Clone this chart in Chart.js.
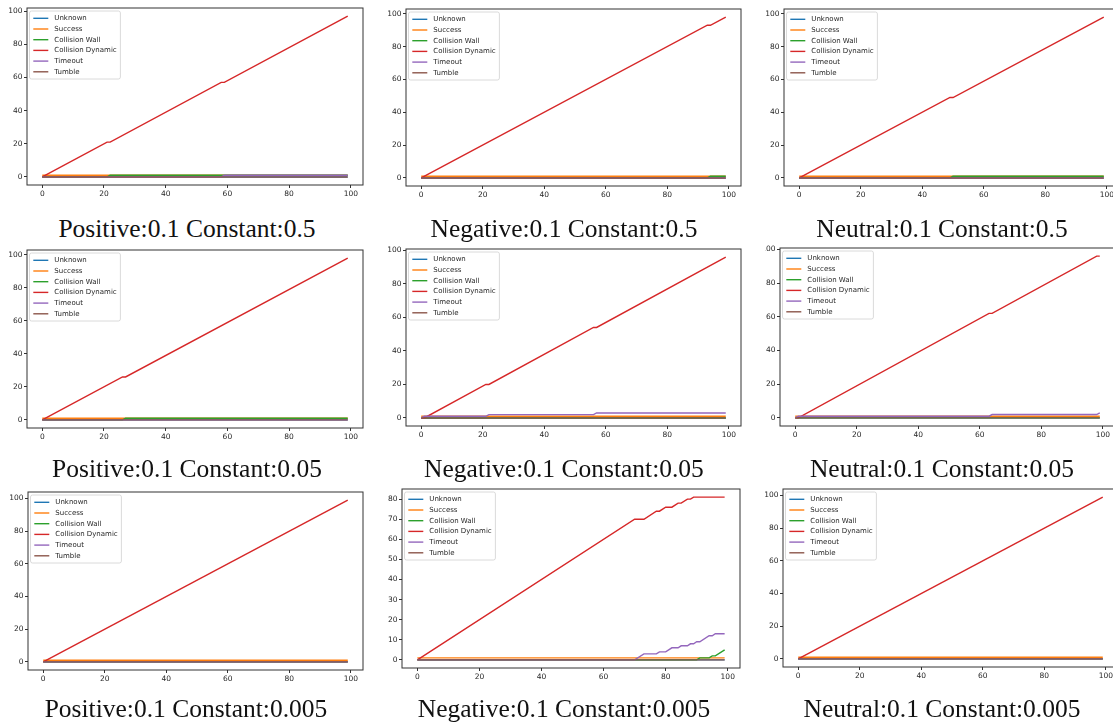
<!DOCTYPE html>
<html lang="en">
<head>
<meta charset="UTF-8">
<title>Episode outcomes</title>
<script src="https://cdn.jsdelivr.net/npm/chart.js@4.4.0/dist/chart.umd.min.js"></script>
<style>
  body { margin: 0; width: 1113px; height: 726px; overflow: hidden; background: #fff; position: relative; }
  .panel { position: absolute; }
  .caption {
    position: absolute; width: 400px; text-align: center;
    font-family: "Liberation Serif", serif; font-size: 25.5px; line-height: 1; color: #111;
    white-space: nowrap;
  }
</style>
</head>
<body>
<script>
// outcome names, in plotting order
const outcomes = ['Unknown', 'Success', 'Collision Wall', 'Collision Dynamic', 'Timeout', 'Tumble'];
const xTicks = [0, 20, 40, 60, 80, 100];
const yTicks = [0, 20, 40, 60, 80, 100];
const yTicksFine = [0, 10, 20, 30, 40, 50, 60, 70, 80];

// cumulative counts per episode, given as [episode, count] vertices
const posHalf = {
  unknown: [[0, 0], [99, 0]],
  success: [[0, 1], [99, 1]],
  wall:    [[0, 0], [21, 0], [22, 1], [99, 1]],
  dynamic: [[0, 0], [21, 21], [22, 21], [58, 57], [59, 57], [99, 97]],
  timeout: [[0, 0], [58, 0], [59, 1], [99, 1]],
  tumble:  [[0, 0], [99, 0]]
};
const negHalf = {
  unknown: [[0, 0], [99, 0]],
  success: [[0, 1], [99, 1]],
  wall:    [[0, 0], [93, 0], [94, 1], [99, 1]],
  dynamic: [[0, 0], [93, 93], [94, 93], [99, 98]],
  timeout: [[0, 0], [99, 0]],
  tumble:  [[0, 0], [99, 0]]
};
const neuHalf = {
  unknown: [[0, 0], [99, 0]],
  success: [[0, 1], [99, 1]],
  wall:    [[0, 0], [49, 0], [50, 1], [99, 1]],
  dynamic: [[0, 0], [49, 49], [50, 49], [99, 98]],
  timeout: [[0, 0], [99, 0]],
  tumble:  [[0, 0], [99, 0]]
};
const posTwentieth = {
  unknown: [[0, 0], [99, 0]],
  success: [[0, 1], [99, 1]],
  wall:    [[0, 0], [26, 0], [27, 1], [99, 1]],
  dynamic: [[0, 0], [26, 26], [27, 26], [99, 98]],
  timeout: [[0, 0], [99, 0]],
  tumble:  [[0, 0], [99, 0]]
};
const negTwentieth = {
  unknown: [[0, 0], [99, 0]],
  success: [[0, 1], [99, 1]],
  wall:    [[0, 0], [99, 0]],
  dynamic: [[0, 0], [1, 0], [21, 20], [22, 20], [56, 54], [57, 54], [99, 96]],
  timeout: [[0, 0], [1, 1], [21, 1], [22, 2], [56, 2], [57, 3], [99, 3]],
  tumble:  [[0, 0], [99, 0]]
};
const neuTwentieth = {
  unknown: [[0, 0], [99, 0]],
  success: [[0, 1], [99, 1]],
  wall:    [[0, 0], [99, 0]],
  dynamic: [[0, 0], [1, 0], [63, 62], [64, 62], [98, 96], [99, 96]],
  timeout: [[0, 0], [1, 1], [63, 1], [64, 2], [98, 2], [99, 3]],
  tumble:  [[0, 0], [99, 0]]
};
const posTiny = {
  unknown: [[0, 0], [99, 0]],
  success: [[0, 1], [99, 1]],
  wall:    [[0, 0], [99, 0]],
  dynamic: [[0, 0], [99, 99]],
  timeout: [[0, 0], [99, 0]],
  tumble:  [[0, 0], [99, 0]]
};
const negTiny = {
  unknown: [[0, 0], [99, 0]],
  success: [[0, 1], [99, 1]],
  wall:    [[0, 0], [90, 0], [91, 1], [94, 1], [95, 2], [96, 2], [99, 5]],
  dynamic: [[0, 0], [70, 70], [73, 70], [77, 74], [78, 74], [80, 76], [82, 76],
            [84, 78], [85, 78], [87, 80], [88, 80], [89, 81], [99, 81]],
  timeout: [[0, 0], [70, 0], [73, 3], [77, 3], [78, 4], [80, 4], [82, 6], [84, 6],
            [85, 7], [87, 7], [88, 8], [89, 8], [90, 9], [91, 9], [94, 12], [95, 12],
            [96, 13], [99, 13]],
  tumble:  [[0, 0], [99, 0]]
};
const neuTiny = {
  unknown: [[0, 0], [99, 0]],
  success: [[0, 1], [99, 1]],
  wall:    [[0, 0], [99, 0]],
  dynamic: [[0, 0], [99, 99]],
  timeout: [[0, 0], [99, 0]],
  tumble:  [[0, 0], [99, 0]]
};

const captions = [
  'Positive:0.1 Constant:0.5', 'Negative:0.1 Constant:0.5', 'Neutral:0.1 Constant:0.5',
  'Positive:0.1 Constant:0.05', 'Negative:0.1 Constant:0.05', 'Neutral:0.1 Constant:0.05',
  'Positive:0.1 Constant:0.005', 'Negative:0.1 Constant:0.005', 'Neutral:0.1 Constant:0.005'
];

const seriesKeys = ['unknown', 'success', 'wall', 'dynamic', 'timeout', 'tumble'];
const colors = ['#1f77b4', '#ff7f0e', '#2ca02c', '#d62728', '#9467bd', '#8c564b'];

// axes boxes [left, top, right, bottom] and caption centres
const panels = [
  { run: posHalf,      box: [27, 8, 363, 185],     yt: yTicks, cap: [187, 216] },
  { run: negHalf,      box: [406, 9, 741, 186],    yt: yTicks, cap: [564, 216] },
  { run: neuHalf,      box: [784, 9, 1119, 186],   yt: yTicks, cap: [942, 216] },
  { run: posTwentieth, box: [27, 250, 363, 428],   yt: yTicks, cap: [187, 456] },
  { run: negTwentieth, box: [406, 249, 741, 426],  yt: yTicks, cap: [564, 456] },
  { run: neuTwentieth, box: [780, 248, 1115, 426], yt: yTicks, cap: [942, 456], clipLeft: 765 },
  { run: posTiny,      box: [28, 492, 363, 670],   yt: yTicks, cap: [186, 696] },
  { run: negTiny,      box: [402, 489, 740, 668],  yt: yTicksFine, cap: [564, 696] },
  { run: neuTiny,      box: [783, 489, 1118, 667], yt: yTicks, cap: [942, 696] }
];

const tickFont = { family: 'DejaVu Sans', size: 7.5 };
const ML = 36, MT = 8, MR = 8, MB = 22;

// black box round the axes
const frame = {
  id: 'frame',
  afterDraw(chart) {
    const { ctx, chartArea: a } = chart;
    ctx.save();
    ctx.strokeStyle = '#333';
    ctx.lineWidth = 1;
    ctx.strokeRect(a.left, a.top, a.right - a.left, a.bottom - a.top);
    ctx.restore();
  }
};

// boxed legend in the upper left corner
const boxLegend = {
  id: 'boxLegend',
  afterDatasetsDraw(chart) {
    const { ctx, chartArea: a } = chart;
    const sets = chart.data.datasets;
    ctx.save();
    ctx.font = '7px "DejaVu Sans"';
    const textW = Math.max(...sets.map(d => ctx.measureText(d.label).width));
    const x = a.left + 2.5, y = a.top + 3;
    const w = 24.8 + textW + 3.7, h = 68;
    ctx.beginPath();
    ctx.roundRect(x, y, w, h, 2);
    ctx.fillStyle = 'rgba(255,255,255,0.8)';
    ctx.fill();
    ctx.strokeStyle = '#d0d0d0';
    ctx.lineWidth = 0.8;
    ctx.stroke();
    sets.forEach((d, i) => {
      const cy = y + 7.3 + i * 10.7;
      ctx.strokeStyle = d.borderColor;
      ctx.lineWidth = 1.4;
      ctx.beginPath();
      ctx.moveTo(x + 3.8, cy);
      ctx.lineTo(x + 18.8, cy);
      ctx.stroke();
      ctx.fillStyle = '#262626';
      ctx.textBaseline = 'middle';
      ctx.fillText(d.label, x + 24.8, cy);
    });
    ctx.restore();
  }
};

panels.forEach((p, idx) => {
  const [L, T, R, B] = p.box;
  const wrap = document.createElement('div');
  wrap.className = 'panel';
  wrap.style.left = (L - ML) + 'px';
  wrap.style.top = (T - MT) + 'px';
  wrap.style.width = (R - L + ML + MR) + 'px';
  wrap.style.height = (B - T + MT + MB) + 'px';
  if (p.clipLeft) wrap.style.clipPath = `inset(0 0 0 ${p.clipLeft - (L - ML)}px)`;
  const canvas = document.createElement('canvas');
  wrap.appendChild(canvas);
  document.body.appendChild(wrap);

  const cap = document.createElement('div');
  cap.className = 'caption';
  cap.textContent = captions[idx];
  cap.style.left = (p.cap[0] - 200) + 'px';
  cap.style.top = p.cap[1] + 'px';
  document.body.appendChild(cap);

  const datasets = seriesKeys.map((k, i) => ({
    label: outcomes[i],
    data: p.run[k].map(([x, y]) => ({ x, y })),
    borderColor: colors[i],
    backgroundColor: colors[i],
    borderWidth: 1.4,
    pointRadius: 0,
    tension: 0,
    fill: false,
    order: seriesKeys.length - 1 - i
  }));

  // matplotlib-style 5% margins round the data
  const top = Math.max(...seriesKeys.flatMap(k => p.run[k].map(v => v[1])));

  new Chart(canvas, {
    type: 'line',
    data: { datasets },
    options: {
      responsive: true,
      maintainAspectRatio: false,
      animation: false,
      events: [],
      layout: { padding: { top: MT, right: MR, left: 0, bottom: 0 } },
      plugins: { legend: { display: false }, tooltip: { enabled: false } },
      scales: {
        x: {
          type: 'linear', min: -4.95, max: 103.95,
          afterBuildTicks: s => { s.ticks = xTicks.map(v => ({ value: v })); },
          afterFit: s => { s.height = MB; s.paddingLeft = 0; s.paddingRight = 0; },
          grid: { drawOnChartArea: false, tickLength: 3, color: '#333' },
          border: { display: false },
          ticks: { padding: 1.5, font: tickFont, color: '#262626', maxRotation: 0, autoSkip: false }
        },
        y: {
          type: 'linear', min: -0.05 * top, max: 1.05 * top,
          afterBuildTicks: s => { s.ticks = p.yt.map(v => ({ value: v })); },
          afterFit: s => { s.width = ML; s.paddingTop = 0; s.paddingBottom = 0; },
          grid: { drawOnChartArea: false, tickLength: 3, color: '#333' },
          border: { display: false },
          ticks: { padding: 1.5, font: tickFont, color: '#262626', autoSkip: false }
        }
      }
    },
    plugins: [frame, boxLegend]
  });
});
</script>
</body>
</html>
